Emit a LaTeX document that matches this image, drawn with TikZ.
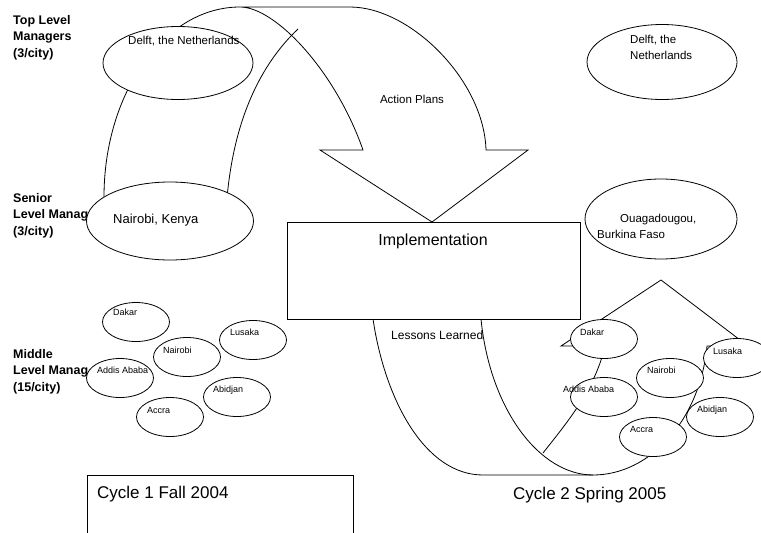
\documentclass[tikz,border=0pt]{standalone}
\usepackage{fontspec}
\setmainfont{Liberation Sans}
\usetikzlibrary{shapes.geometric}
\begin{document}
\begin{tikzpicture}[
    x=1pt,y=-1pt,
    rank/.style={anchor=north west,align=left,inner sep=0pt,font=\bfseries\fontsize{12.5}{16.5}\selectfont},
    band/.style={draw,line width=0.8pt,line join=miter},
    panel/.style={draw,fill=white,line width=0.8pt,inner sep=0pt},
    city/.style={draw,ellipse,fill=white,line width=0.8pt,inner sep=0pt,minimum width=67pt,minimum height=39pt},
    bigcity/.style={city,minimum width=150pt,minimum height=75pt},
    cityname/.style={anchor=base west,inner sep=0pt,font=\fontsize{9}{10}\selectfont},
    bigname/.style={anchor=base west,inner sep=0pt,font=\fontsize{11.5}{13}\selectfont},
    cyclename/.style={anchor=base west,inner sep=0pt,font=\fontsize{17}{20}\selectfont},
  ]
  \clip (0,0) rectangle (761,533);
  \node[rank] (top) at (13,15) {Top Level\\Managers\\(3/city)};
  \node[rank] (senior) at (13,193) {Senior\\Level Manag\\(3/city)};
  \node[rank] (middle) at (13,349) {Middle\\Level Manag\\(15/city)};

  \draw[band] (104,203) -- (104,197) .. controls (104,92) and (165,7) .. (240,7)
    .. controls (275,7) and (335,70) .. (363,150) -- (320,150) -- (432,222) -- (528,150) -- (486,150)
    .. controls (484,80) and (410,7) .. (350,7) -- (240,7);
  \draw[band] (227,198) .. controls (234,120) and (260,65) .. (298,29);
  \draw[band] (373,319) .. controls (385,400) and (425,475) .. (483,475) -- (593,475);
  \draw[band] (481,319) .. controls (490,410) and (540,475) .. (593,475)
    .. controls (650,475) and (700,420) .. (707,346) -- (748,346) -- (661,280) -- (561,346) -- (605,346)
    .. controls (595,390) and (565,425) .. (543,453);

  \node[font=\fontsize{11.5}{13}\selectfont,inner sep=0pt] (action) at (412,99) {Action Plans};
  \node[anchor=base west,inner sep=0pt,font=\fontsize{12}{14}\selectfont] (lessons) at (391,339) {Lessons Learned};

  \node[panel,minimum width=293pt,minimum height=97pt] (impl) at (433.5,270.5) {};
  \node[anchor=base,inner sep=0pt,font=\fontsize{16}{19}\selectfont] (impltext) at (433,245) {Implementation};
  \node[panel,minimum width=266pt,minimum height=70pt] (cycleA) at (220,510) {};
  \node[cyclename] (cycleAtext) at (97,498) {Cycle 1 Fall 2004};
  \node[cyclename] (cycleBtext) at (513,499) {Cycle 2 Spring 2005};

  \node[bigcity,minimum height=73pt] (delftL) at (178,63) {};
  \node[bigname] (delftLtext) at (128,44) {Delft, the Netherlands};
  \node[bigcity,minimum width=167pt,minimum height=78pt] (nairobiK) at (170,221) {};
  \node[anchor=base west,inner sep=0pt,font=\fontsize{13}{15}\selectfont] (nairobiKtext) at (113,223) {Nairobi, Kenya};
  \node[bigcity] (delftR) at (662,62) {};
  \node[bigname] (delftRa) at (630,43) {Delft, the};
  \node[bigname] (delftRb) at (630,59) {Netherlands};
  \node[bigcity,minimum width=152pt,minimum height=80pt] (ouaga) at (661,219) {};
  \node[bigname] (ouagaA) at (620,222) {Ouagadougou,};
  \node[bigname] (ouagaB) at (597,238) {Burkina Faso};

  \node[city] (dakarL) at (136,322) {};
  \node[city] (lusakaL) at (253,340) {};
  \node[city] (nairobiL) at (187,357) {};
  \node[city] (addisL) at (120,378) {};
  \node[city] (abidjanL) at (237,397) {};
  \node[city] (accraL) at (170,417) {};
  \node[cityname] (dakarLtext) at (113,315) {Dakar};
  \node[cityname] (lusakaLtext) at (230,335) {Lusaka};
  \node[cityname] (nairobiLtext) at (163,353) {Nairobi};
  \node[cityname] (addisLtext) at (97,373) {Addis Ababa};
  \node[cityname] (abidjanLtext) at (213,392) {Abidjan};
  \node[cityname] (accraLtext) at (147,413) {Accra};

  \node[city] (dakarR) at (604,339) {};
  \node[city] (lusakaR) at (737,358) {};
  \node[city] (nairobiR) at (670,378) {};
  \node[city] (addisR) at (604,397) {};
  \node[city] (abidjanR) at (720,417) {};
  \node[city] (accraR) at (653,437) {};
  \node[cityname] (dakarRtext) at (580,335) {Dakar};
  \node[cityname] (lusakaRtext) at (713,354) {Lusaka};
  \node[cityname] (nairobiRtext) at (647,373) {Nairobi};
  \node[cityname] (addisRtext) at (563,392) {Addis Ababa};
  \node[cityname] (abidjanRtext) at (697,412) {Abidjan};
  \node[cityname] (accraRtext) at (630,432) {Accra};
\end{tikzpicture}
\end{document}
